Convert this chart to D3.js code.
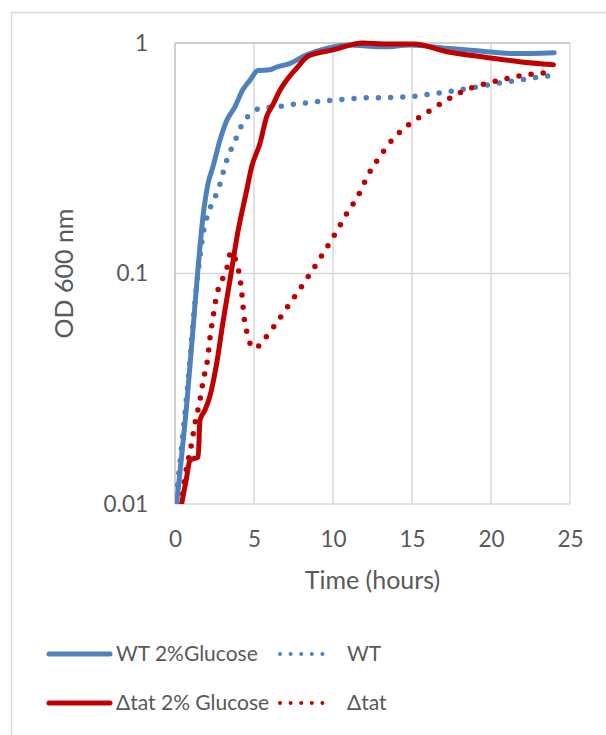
<!DOCTYPE html>
<html>
<head>
<meta charset="utf-8">
<script src="https://cdn.jsdelivr.net/npm/d3@7"></script>
<style>
  body { margin: 0; background: #fff; }
  text { font-family: Lato, "Open Sans", sans-serif; fill: #595959; }
</style>
</head>
<body>
<div id="growthchart"></div>
<script>
// series values (time in hours, OD600)
var wtGlucoseTime = [0.1, 0.75, 1.45, 1.77, 2.1, 2.4, 2.85, 3.27, 3.8, 4.28, 4.75, 5.25, 6.0, 6.4, 7.3, 8.3, 9.6, 11.1, 12.1, 13.2, 14.9, 17.2, 19.3, 21.4, 24.0];
var wtGlucoseOD   = [0.01, 0.0274, 0.104, 0.176, 0.247, 0.29, 0.38, 0.46, 0.53, 0.625, 0.69, 0.76, 0.765, 0.785, 0.816, 0.887, 0.948, 0.98, 0.97, 0.963, 0.98, 0.948, 0.923, 0.90, 0.908];

var wtTime = [0, 0.75, 1.45, 1.79, 2.05, 2.32, 2.64, 2.89, 3.1, 3.33, 3.63, 3.94, 4.26, 4.75, 5.33, 6.86, 7.64, 8.4, 9.18, 9.94, 10.7, 11.5, 12.2, 13.0, 13.8, 14.6, 15.4, 16.1, 16.9, 17.7, 18.5, 19.2, 19.9, 20.7, 21.5, 22.3, 23.0, 23.8];
var wtOD   = [0.0095, 0.03, 0.1, 0.15, 0.178, 0.2, 0.223, 0.25, 0.283, 0.318, 0.355, 0.396, 0.445, 0.49, 0.519, 0.533, 0.544, 0.551, 0.559, 0.564, 0.57, 0.575, 0.579, 0.579, 0.58, 0.585, 0.59, 0.6, 0.609, 0.621, 0.634, 0.646, 0.659, 0.673, 0.686, 0.698, 0.712, 0.722];

var tatGlucoseTime = [0.42, 0.74, 0.95, 1.47, 1.58, 1.9, 2.2, 2.64, 3.06, 3.48, 4.0, 4.54, 4.85, 5.38, 5.8, 6.2, 6.65, 7.07, 7.7, 8.44, 10.0, 11.9, 13.2, 15.1, 17.2, 19.3, 21.8, 23.95];
var tatGlucoseOD   = [0.01, 0.0131, 0.0155, 0.016, 0.0231, 0.0256, 0.0292, 0.0408, 0.063, 0.0937, 0.154, 0.23, 0.29, 0.367, 0.479, 0.54, 0.625, 0.69, 0.777, 0.878, 0.933, 1.0, 0.99, 0.99, 0.917, 0.873, 0.83, 0.805];

var tatTime = [0.4, 0.53, 1.05, 1.27, 1.58, 1.79, 2.07, 2.22, 2.43, 2.64, 2.88, 3.16, 3.37, 3.52, 3.94, 4.11, 4.26, 4.39, 4.54, 4.7, 5.08, 5.55, 6.39, 7.17, 7.96, 8.71, 9.45, 10.17, 10.87, 11.6, 12.2, 12.93, 13.75, 14.77, 15.93, 17.1, 18.3, 19.6, 20.95, 22.3, 23.7];
var tatOD   = [0.0098, 0.0117, 0.0183, 0.0224, 0.0283, 0.0345, 0.0428, 0.053, 0.066, 0.0807, 0.0906, 0.1, 0.111, 0.124, 0.108, 0.096, 0.078, 0.063, 0.056, 0.0506, 0.0473, 0.051, 0.0605, 0.0725, 0.0868, 0.1036, 0.1245, 0.15, 0.182, 0.218, 0.266, 0.319, 0.38, 0.441, 0.499, 0.56, 0.621, 0.664, 0.70, 0.729, 0.743];

var seriesNames = ["WT 2%Glucose", "WT", "\u0394tat 2% Glucose", "\u0394tat"];
var xTicks = [0, 5, 10, 15, 20, 25];
var yTicks = [0.01, 0.1, 1];

var width = 606, height = 735;
var plot = {left: 175, right: 570, top: 43, bottom: 504};

var svg = d3.select("#growthchart").append("svg")
    .attr("width", width)
    .attr("height", height);

// outer chart border (right and bottom fall outside the picture)
svg.append("rect")
    .attr("x", 11.5).attr("y", 12.5)
    .attr("width", 700).attr("height", 800)
    .attr("fill", "none")
    .attr("stroke", "#d9d9d9")
    .attr("stroke-width", 1.5);

var x = d3.scaleLinear().domain([0, 25]).range([plot.left, plot.right]);
var y = d3.scaleLog().domain([0.01, 1]).range([plot.bottom, plot.top]);

// gridlines
svg.append("g").selectAll("line")
    .data(xTicks.slice(1))
    .enter().append("line")
    .attr("x1", function(d){ return x(d); })
    .attr("x2", function(d){ return x(d); })
    .attr("y1", plot.top).attr("y2", plot.bottom)
    .attr("stroke", "#d9d9d9").attr("stroke-width", 1.5);
svg.append("g").selectAll("line")
    .data(yTicks.slice(0, 2))
    .enter().append("line")
    .attr("x1", plot.left).attr("x2", plot.right)
    .attr("y1", function(d){ return y(d); })
    .attr("y2", function(d){ return y(d); })
    .attr("stroke", "#d9d9d9").attr("stroke-width", 1.5);

// top and left borders
svg.append("line")
    .attr("x1", plot.left).attr("x2", plot.right)
    .attr("y1", plot.top).attr("y2", plot.top)
    .attr("stroke", "#bfbfbf").attr("stroke-width", 1.5);
svg.append("line")
    .attr("x1", plot.left).attr("x2", plot.left)
    .attr("y1", plot.top).attr("y2", plot.bottom)
    .attr("stroke", "#bfbfbf").attr("stroke-width", 1.5);

// tick labels
var xAxis = d3.axisBottom(x).tickValues(xTicks).tickSize(0).tickPadding(27);
var xg = svg.append("g")
    .attr("transform", "translate(0," + plot.bottom + ")")
    .call(xAxis);
var yAxis = d3.axisLeft(y).tickValues(yTicks).tickSize(0).tickPadding(27)
    .tickFormat(function(d){ return d === 1 ? "1" : d3.format("")(d); });
var yg = svg.append("g")
    .attr("transform", "translate(" + plot.left + ",0)")
    .call(yAxis);
[xg, yg].forEach(function(g){
    g.select(".domain").remove();
    g.selectAll("text").attr("font-size", 22.5).attr("font-family", "Lato, sans-serif").attr("fill", "#595959");
});

// axis titles
svg.append("text")
    .attr("x", (plot.left + plot.right) / 2)
    .attr("y", 580)
    .attr("dy", "0.35em")
    .attr("text-anchor", "middle")
    .attr("font-size", 25)
    .text("Time (hours)");
svg.append("text")
    .attr("transform", "translate(64," + ((plot.top + plot.bottom) / 2) + ") rotate(-90)")
    .attr("dy", "0.35em")
    .attr("text-anchor", "middle")
    .attr("font-size", 25)
    .text("OD 600 nm");

// lines
svg.append("defs").append("clipPath").attr("id", "plotclip")
    .append("rect")
    .attr("x", plot.left).attr("y", plot.top - 3)
    .attr("width", plot.right - plot.left + 5)
    .attr("height", plot.bottom - plot.top + 3);

var line = d3.line()
    .x(function(d){ return x(d[0]); })
    .y(function(d){ return y(d[1]); })
    .curve(d3.curveMonotoneX);

var series = [
    {time: wtGlucoseTime, od: wtGlucoseOD, color: "#4f81bd", dotted: false},
    {time: wtTime, od: wtOD, color: "#4f81bd", dotted: true},
    {time: tatGlucoseTime, od: tatGlucoseOD, color: "#c00000", dotted: false},
    {time: tatTime, od: tatOD, color: "#c00000", dotted: true}
];

var linegroup = svg.append("g").attr("clip-path", "url(#plotclip)");
[1, 3, 0, 2].forEach(function(i){
    var s = series[i];
    var pts = s.time.map(function(t, k){ return [t, s.od[k]]; });
    var p = linegroup.append("path")
        .attr("d", line(pts))
        .attr("fill", "none")
        .attr("stroke", s.color)
        .attr("stroke-width", s.dotted ? 5.5 : 5)
        .attr("stroke-linecap", "round")
        .attr("stroke-linejoin", "round");
    if (s.dotted) p.attr("stroke-dasharray", "0,12.2");
});

// legend
var legendItems = [
    {x: 49, y: 654, w: 61, tx: 116, s: 0},
    {x: 280, y: 654, w: 53, tx: 347, s: 1},
    {x: 49, y: 703, w: 61, tx: 116, s: 2},
    {x: 280, y: 703, w: 53, tx: 347, s: 3}
];
var legend = svg.append("g");
legendItems.forEach(function(it){
    var s = series[it.s];
    var l = legend.append("line")
        .attr("x1", it.x).attr("x2", it.x + it.w)
        .attr("y1", it.y).attr("y2", it.y)
        .attr("stroke", s.color)
        .attr("stroke-width", s.dotted ? 4 : 5)
        .attr("stroke-linecap", "round");
    if (s.dotted) l.attr("stroke-dasharray", "0,10.6");
    legend.append("text")
        .attr("x", it.tx).attr("y", it.y)
        .attr("dy", "0.35em")
        .attr("font-size", 21)
        .text(seriesNames[it.s]);
});
</script>
</body>
</html>
